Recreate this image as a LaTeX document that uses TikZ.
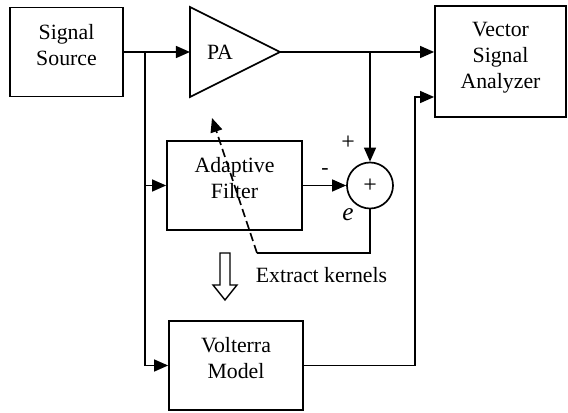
\documentclass[tikz,border=0pt]{standalone}
\usepackage{fontspec}
\setmainfont{Liberation Serif}
\usetikzlibrary{arrows.meta}

\begin{document}
\begin{tikzpicture}[
    x=0.025cm, y=-0.025cm,
    every node/.style={font=\fontsize{15.5}{18.5}\selectfont},
    blockbox/.style={
        draw,
        line width=1.2pt,
        minimum height=2.225cm,
        inner sep=0pt
    },
    blocktext/.style={align=center, yshift=5pt},
    sig/.style={line width=1.2pt, -{Triangle[length=10pt,width=8.5pt]}},
    wire/.style={line width=1.2pt}
]
    \useasboundingbox (0,0) rectangle (568,413);

    % blocks
    \node[blockbox, minimum width=2.825cm,
        label={[blocktext]center:Signal\\Source}] (source) at (66.5,52) {};
    \node[blockbox, minimum width=3.275cm, minimum height=2.775cm,
        label={[blocktext, yshift=-2pt]center:Vector\\Signal\\Analyzer}] (vsa) at (500.5,61.5) {};
    \node[blockbox, minimum width=3.375cm,
        label={[blocktext]center:Adaptive\\Filter}] (filter) at (234.5,185.5) {};
    \node[blockbox, minimum width=3.35cm,
        label={[blocktext]center:Volterra\\Model}] (volterra) at (236,365.5) {};
    \node[draw, circle, line width=1.2pt, minimum size=1.15cm, inner sep=0pt,
        font=\fontsize{17}{18}\selectfont] (sum) at (370,185.5) {+};

    % power amplifier
    \coordinate (pa-in) at (190,52);
    \coordinate (pa-out) at (280,52);
    \draw[wire, line join=miter] (190,7) -- (pa-out) -- (190,97) -- cycle;
    \node (pa) at (220,52) {PA};

    % signal paths
    \coordinate (split) at (145,52);
    \coordinate (tap) at (370,52);
    \coordinate (return) at (415,97);
    \draw[sig] (source.east) -- (pa-in);
    \draw[sig] (split) |- (volterra.west);
    \draw[sig] (split |- filter.west) -- (filter.west);
    \draw[sig] (pa-out) -- (vsa.west |- pa-out);
    \draw[sig] (tap) -- (sum.north);
    \draw[sig] (filter.east) -- (sum.west);
    \draw[sig] (volterra.east) -| (return) -- (return -| vsa.west);

    % error feedback
    \coordinate (fb) at (257,253);
    \coordinate (kernel-tip) at (212,118);
    \draw[wire] (sum.south) |- (fb);
    \draw[sig, dash pattern=on 6pt off 3pt] (fb) -- (kernel-tip);

    \node[font=\fontsize{17}{18}\selectfont] (plus) at (348,143) {+};
    \node (minus) at (325,172) {-};
    \node[font=\fontsize{18}{18}\selectfont] (err) at (348,215) {\textit{e}};

    % kernel extraction
    \draw[line width=1pt, line join=miter] (220,253) -- (230,253) -- (230,285) -- (237,285)
        -- (225,300) -- (213,285) -- (220,285) -- cycle;
    \node (extract) at (321.5,275) {Extract kernels};
\end{tikzpicture}
\end{document}
